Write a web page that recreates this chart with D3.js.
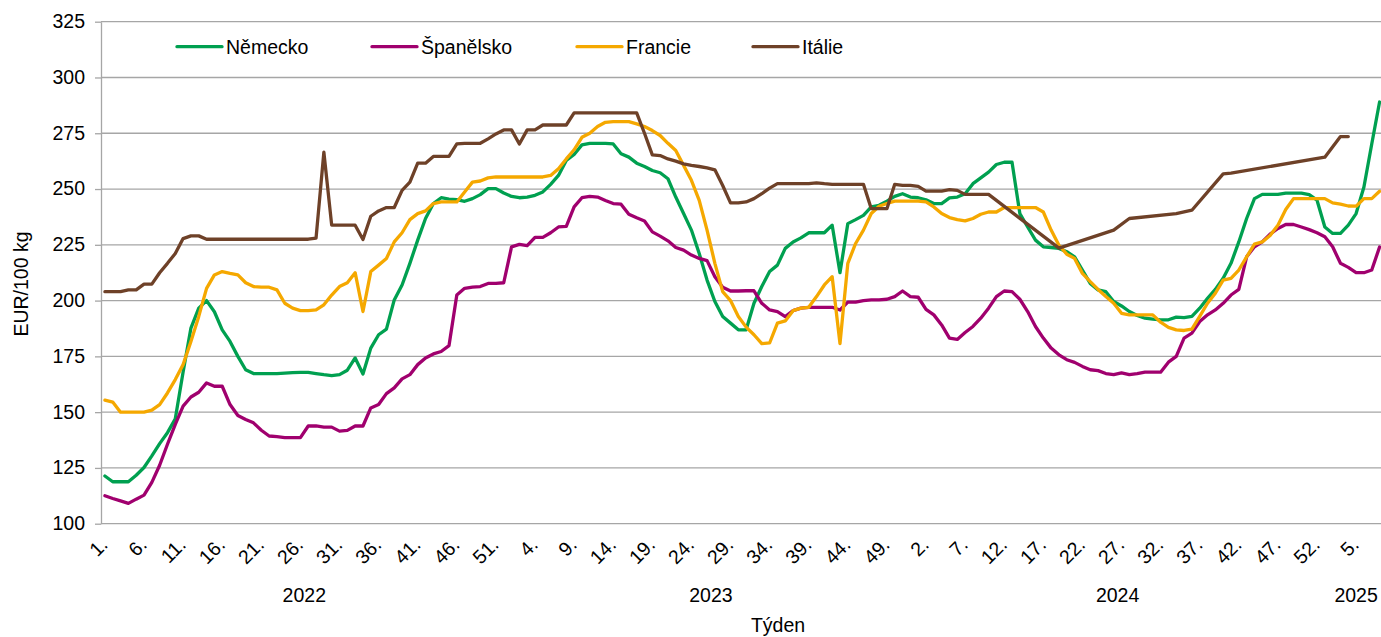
<!DOCTYPE html>
<html>
<head>
<meta charset="utf-8">
<script src="https://cdn.jsdelivr.net/npm/d3@7"></script>
<style>
  html, body { margin: 0; padding: 0; background: #fff; }
  svg { display: block; }
</style>
</head>
<body>
<script>
// ---------------- DATA ----------------
const years = ["2022", "2023", "2024", "2025"];
const weeksInYear = [52, 52, 52, 9];
const seriesNames = ["Německo", "Španělsko", "Francie", "Itálie"];
const seriesColors = ["#00a050", "#a0006e", "#f5a800", "#6e4128"];
const yTicks = [100, 125, 150, 175, 200, 225, 250, 275, 300, 325];

const nemecko = [121.4,118.8,118.8,118.8,121.7,125.2,130.4,135.9,140.8,147.0,
168.0,187.7,196.6,200.0,195.0,186.9,181.7,175.0,169.0,167.3,
167.3,167.3,167.3,167.5,167.7,167.8,167.8,167.3,166.8,166.4,
166.8,168.8,174.3,167.1,178.7,184.7,187.2,200.3,207.0,216.7,
227.1,236.8,243.5,246.1,245.5,245.2,244.5,245.7,247.5,250.2,
250.2,248.2,246.7,246.1,246.4,247.2,248.7,252.1,256.1,262.8,
265.5,269.8,270.5,270.5,270.5,270.2,265.8,264.3,261.6,260.1,
258.3,257.3,254.6,246.4,239.0,231.6,221.1,209.2,199.6,192.9,
189.9,186.9,186.9,198.8,206.3,213.0,215.9,223.4,226.3,228.1,
230.4,230.4,230.4,233.8,212.5,234.5,236.3,238.2,242.0,242.7,
244.6,246.7,247.9,246.4,246.1,245.2,243.5,243.5,246.0,246.4,
247.9,252.4,255.0,257.6,261.0,262.0,262.0,239.0,233.0,227.1,
224.1,223.8,223.4,221.9,219.6,213.7,207.7,204.8,204.0,199.6,
197.6,195.1,193.3,192.1,191.7,191.4,191.4,192.6,192.4,192.9,
196.6,201.0,205.0,210.0,216.7,226.3,236.8,245.7,247.6,247.6,
247.6,248.2,248.2,248.2,247.5,245.0,233.0,230.1,230.1,233.8,
239.0,250.9,270.2,289.0,null];

const spanelsko = [112.5,111.3,110.2,109.1,111.0,112.8,118.5,126.2,135.6,144.5,
152.7,156.8,158.9,163.1,161.6,161.6,153.4,148.5,146.7,145.2,
141.9,139.3,139.0,138.6,138.6,138.6,143.8,143.8,143.3,143.3,
141.5,141.8,143.8,143.8,151.9,153.4,158.3,160.9,164.9,166.8,
171.3,174.3,176.1,177.2,179.8,202.5,205.5,206.0,206.3,207.7,
207.7,208.0,224.1,225.2,224.6,228.3,228.3,230.4,233.0,233.3,
242.0,246.1,246.7,246.4,244.9,243.5,243.2,238.7,237.1,235.7,
230.8,228.9,226.8,223.8,222.6,220.4,218.9,217.9,210.7,206.0,
204.3,204.3,204.4,204.4,198.8,195.8,195.1,192.8,195.5,196.6,
197.0,197.0,197.0,197.0,195.8,199.3,199.3,200.0,200.3,200.3,
200.6,201.8,204.3,201.8,201.5,196.1,193.6,189.1,183.2,182.6,
185.7,188.4,192.1,196.6,201.8,204.3,204.0,200.6,195.1,188.4,
183.2,178.7,175.7,173.5,172.3,170.5,169.0,168.6,167.3,166.8,
167.6,166.8,167.3,167.9,167.9,167.9,172.4,175.0,183.2,185.4,
190.6,193.6,195.8,198.8,202.5,205.0,219.6,224.1,226.3,229.8,
232.3,234.1,234.1,233.0,231.8,230.4,228.6,224.1,216.7,214.9,
212.5,212.5,213.7,224.0,null];

const francie = [155.4,154.5,150.0,150.0,150.0,150.0,150.9,153.4,158.6,164.6,
171.3,181.7,192.9,205.5,211.5,213.0,212.2,211.5,208.0,206.3,
206.0,206.0,204.8,198.8,196.6,195.5,195.5,195.8,198.1,202.5,
206.3,208.0,212.5,195.1,213.0,215.9,218.9,226.3,230.4,236.3,
239.0,240.2,243.5,244.2,244.2,244.2,248.7,253.1,253.6,255.0,
255.4,255.4,255.4,255.4,255.4,255.4,255.4,256.1,259.1,263.5,
267.6,273.2,275.0,278.0,279.9,280.2,280.2,280.2,279.2,278.0,
276.2,274.0,270.5,267.3,260.6,253.9,244.9,231.6,216.7,204.0,
200.0,192.9,188.1,184.7,180.7,181.0,189.9,190.9,195.5,196.6,
197.0,201.8,207.0,210.7,180.7,216.7,225.6,231.6,239.0,242.3,
243.5,244.6,244.6,244.6,244.6,244.2,242.0,239.0,237.2,236.3,
235.7,236.8,238.7,239.7,239.7,241.7,241.7,241.7,241.7,241.7,
239.7,231.6,224.8,220.8,218.9,212.2,208.5,205.0,201.8,198.8,
194.3,193.6,193.6,193.6,193.6,190.3,188.0,186.9,186.6,187.2,
192.9,198.8,203.3,209.2,210.0,213.7,219.6,225.3,226.3,229.2,
233.8,240.8,245.7,245.7,245.7,245.7,245.7,243.8,243.2,242.4,
242.3,245.7,245.7,249.0,null];

const italie = [204.0,204.0,204.0,204.8,204.8,207.4,207.4,212.5,216.7,221.1,
227.8,229.0,229.0,227.5,227.5,227.5,227.5,227.5,227.5,227.5,
227.5,227.5,227.5,227.5,227.5,227.5,227.5,228.0,266.5,233.8,
233.8,233.8,233.8,227.4,237.8,240.2,241.7,241.7,249.4,253.1,
261.6,261.6,264.6,264.6,264.6,270.2,270.5,270.5,270.5,272.5,
274.7,276.5,276.5,270.2,276.5,276.5,278.7,278.7,278.7,278.7,
284.1,284.1,284.1,284.1,284.1,284.1,284.1,284.1,284.1,275.0,
265.3,265.0,263.5,262.5,261.3,260.6,260.1,259.5,258.6,251.6,
243.8,243.8,244.2,245.7,247.9,250.4,252.4,252.4,252.4,252.4,
252.4,252.8,252.4,252.1,252.1,252.1,252.1,252.1,241.2,241.2,
241.2,252.1,251.6,251.6,251.2,249.1,249.1,249.1,249.7,249.4,
247.6,247.6,247.6,247.6,null,null,null,null,null,null,
null,null,223.5,null,null,null,null,null,null,231.6,
null,236.8,null,null,null,null,null,239.0,null,240.5,
null,null,null,256.8,257.1,null,null,null,null,null,
null,null,null,null,null,null,264.3,null,273.5,273.5,
null,null,null,null,null];

const seriesValues = [nemecko, spanelsko, francie, italie];

// ---------------- LAYOUT ----------------
const W = 1381, H = 637;
const plotLeft = 101, plotTop = 21.7, plotBottom = 523.7;
const step = 7.82;
const fontSize = 19.5;
const gridColor = "#a6a6a6";
const legendX = [177, 372, 577, 753];

const categories = [];
years.forEach((yr, k) => {
  for (let w = 1; w <= weeksInYear[k]; w++) categories.push({ year: yr, week: w });
});

const svg = d3.select("body").append("svg")
  .attr("width", W).attr("height", H)
  .style("font-family", "Arial, 'Liberation Sans', sans-serif");

svg.append("rect").attr("width", W).attr("height", H).attr("fill", "#fff");

const x = d3.scaleBand()
  .domain(d3.range(categories.length))
  .range([plotLeft, plotLeft + categories.length * step])
  .paddingInner(0).paddingOuter(0);
const px = i => x(i) + x.bandwidth() / 2;

const y = d3.scaleLinear().domain([100, 325]).range([plotBottom, plotTop]);

// gridlines
svg.append("g").selectAll("line").data(yTicks).join("line")
  .attr("x1", plotLeft).attr("x2", W)
  .attr("y1", d => y(d)).attr("y2", d => y(d))
  .attr("stroke", gridColor).attr("stroke-width", 1.3);

// y axis
const yAxis = d3.axisLeft(y).tickValues(yTicks).tickSize(6).tickSizeOuter(0).tickPadding(10);
const gy = svg.append("g").attr("transform", `translate(${plotLeft},0)`).call(yAxis);
gy.select(".domain").attr("stroke", gridColor).attr("stroke-width", 1.3);
gy.selectAll(".tick line").attr("stroke", gridColor).attr("stroke-width", 1.3);
gy.selectAll(".tick text")
  .attr("fill", "#000")
  .style("font-size", fontSize + "px")
  .style("font-family", "Arial, 'Liberation Sans', sans-serif")
  .attr("dy", "0.3em");

// x tick labels (every 5th week)
const tickIdx = d3.range(0, categories.length, 5);
svg.append("g").selectAll("text").data(tickIdx).join("text")
  .attr("transform", i => `translate(${px(i) + 4},${546}) rotate(-45)`)
  .attr("text-anchor", "end")
  .style("font-size", fontSize + "px")
  .attr("fill", "#000")
  .text(i => categories[i].week + ".");

// year labels
svg.append("g").selectAll("text").data(years).join("text")
  .attr("x", yr => {
    const idx = categories.map((c, i) => c.year === yr ? i : -1).filter(i => i >= 0);
    return (x(idx[0]) + x(idx[idx.length - 1]) + x.bandwidth()) / 2;
  })
  .attr("y", 601.5)
  .attr("text-anchor", "middle")
  .style("font-size", fontSize + "px")
  .attr("fill", "#000")
  .text(d => d);

// axis titles
svg.append("text")
  .attr("x", 778).attr("y", 632)
  .attr("text-anchor", "middle")
  .style("font-size", fontSize + "px")
  .text("Týden");

svg.append("text")
  .attr("transform", `translate(27.5,284) rotate(-90)`)
  .attr("text-anchor", "middle")
  .style("font-size", fontSize + "px")
  .text("EUR/100 kg");

// lines (missing values connected, like the original)
const line = d3.line().x(d => px(d.i)).y(d => y(d.v));
seriesValues.forEach((vals, k) => {
  const pts = vals.map((v, i) => ({ i, v })).filter(d => d.v != null);
  svg.append("path")
    .datum(pts)
    .attr("d", line)
    .attr("fill", "none")
    .attr("stroke", seriesColors[k])
    .attr("stroke-width", 3.3)
    .attr("stroke-linejoin", "round")
    .attr("stroke-linecap", "round");
});

// legend
const lg = svg.append("g");
seriesNames.forEach((name, k) => {
  const g = lg.append("g").attr("transform", `translate(${legendX[k]},46.7)`);
  g.append("line").attr("x1", 0).attr("x2", 45).attr("y1", 0).attr("y2", 0)
    .attr("stroke", seriesColors[k]).attr("stroke-width", 3.3).attr("stroke-linecap", "round");
  g.append("text").attr("x", 49).attr("y", 6.8)
    .style("font-size", fontSize + "px").attr("fill", "#000").text(name);
});
</script>
</body>
</html>
